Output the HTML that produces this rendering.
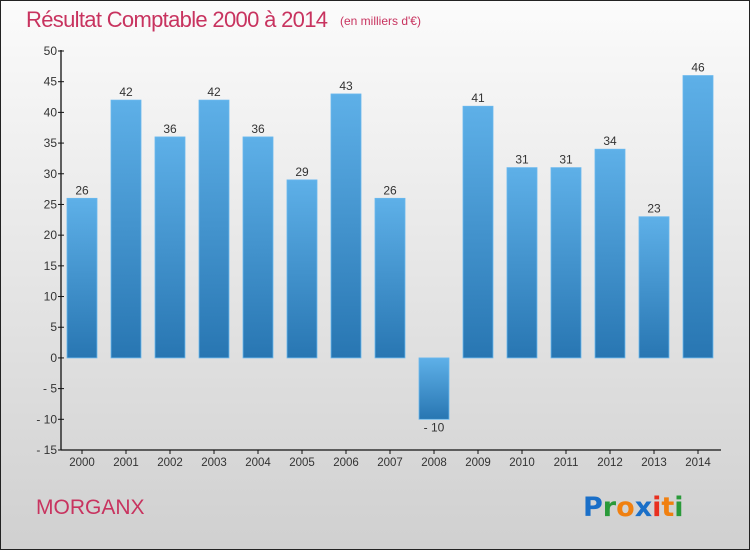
<!DOCTYPE html>
<html><head><meta charset="utf-8"><style>
html,body{margin:0;padding:0;}
body{width:750px;height:550px;overflow:hidden;font-family:"Liberation Sans",sans-serif;}
#wrap{position:absolute;left:0;top:0;width:748px;height:548px;border:1px solid #222;background:linear-gradient(#fbfbfb,#d0d0d0);}
</style></head><body>
<div id="wrap">
<svg id="chart" width="750" height="550" style="position:absolute;left:-1px;top:-1px">
<defs><linearGradient id="bg" x1="0" y1="0" x2="0" y2="1"><stop offset="0" stop-color="#5eb0e8"/><stop offset="1" stop-color="#2876b2"/></linearGradient></defs>
<text x="26" y="27" font-size="22" fill="#c8335f" textLength="302">Résultat Comptable 2000 à 2014</text>
<text x="340" y="25" font-size="12" fill="#c8335f">(en milliers d'€)</text>
<text x="36" y="514" font-size="21" fill="#c8335f">MORGANX</text>
<g font-size="27" font-family="'DejaVu Sans',sans-serif" font-weight="bold">
<text x="583" y="516"><tspan fill="#1a6fc8">P</tspan><tspan fill="#2a9a3a">r</tspan><tspan fill="#f08010">o</tspan><tspan fill="#1a6fc8">x</tspan><tspan fill="#e83020">i</tspan><tspan fill="#f08010">t</tspan><tspan fill="#2a9a3a">i</tspan></text>
</g>
<g id="axes"></g><g id="bars"></g>
</svg></div>
<script>
const categories=["2000","2001","2002","2003","2004","2005","2006","2007","2008","2009","2010","2011","2012","2013","2014"];
const values=[26,42,36,42,36,29,43,26,-10,41,31,31,34,23,46];
const yTicks=[50,45,40,35,30,25,20,15,10,5,0,-5,-10,-15];
const NS="http://www.w3.org/2000/svg";
const yMin=-15,yMax=50,yTop=51,yBot=450,xLeft=61,step=44;
function yPos(v){return yBot-(v-yMin)*(yBot-yTop)/(yMax-yMin);}
function xc(i){return xLeft+21+i*step;}
function mk(t,a,p){const e=document.createElementNS(NS,t);for(const k in a)e.setAttribute(k,a[k]);p.appendChild(e);return e;}
const ax=document.getElementById('axes'),bg=document.getElementById('bars');
const yl=mk('line',{x1:xLeft,y1:yTop-1,x2:xLeft,y2:yBot,stroke:'#111','stroke-width':1.3},ax);


const xl=mk('line',{x1:xLeft,y1:yBot,x2:xLeft+15*step,y2:yBot,stroke:'#111','stroke-width':1.3},ax);


yTicks.forEach(v=>{
 mk('line',{x1:xLeft-3,y1:yPos(v),x2:xLeft+3,y2:yPos(v),stroke:'#111'},ax);
 const t=mk('text',{x:xLeft-4,y:yPos(v)+4,'text-anchor':'end','font-size':12,fill:'#333'},ax);
 t.textContent=String(v).replace('-','- ');
 
 
});
categories.forEach((c,i)=>{
 mk('line',{x1:xc(i),y1:yBot,x2:xc(i),y2:yBot+4,stroke:'#111'},ax);
 const t=mk('text',{x:xc(i),y:yBot+16,'text-anchor':'middle','font-size':11.5,fill:'#333'},ax);
 t.textContent=c;
 
 
 const v=values[i],y0=yPos(0),yv=yPos(v);
 const r=mk('rect',{x:xc(i)-15,y:Math.min(y0,yv),width:30,height:Math.abs(y0-yv),fill:'url(#bg)',stroke:'#6ab8ee','stroke-width':0.8},bg);
 
 
 const l=mk('text',{x:xc(i),y:v>=0?yv-4:yv+12,'text-anchor':'middle','font-size':12,fill:'#333'},bg);
 l.textContent=v<0?String(v).replace('-','- '):String(v);
 
 
});
</script>
</body></html>
